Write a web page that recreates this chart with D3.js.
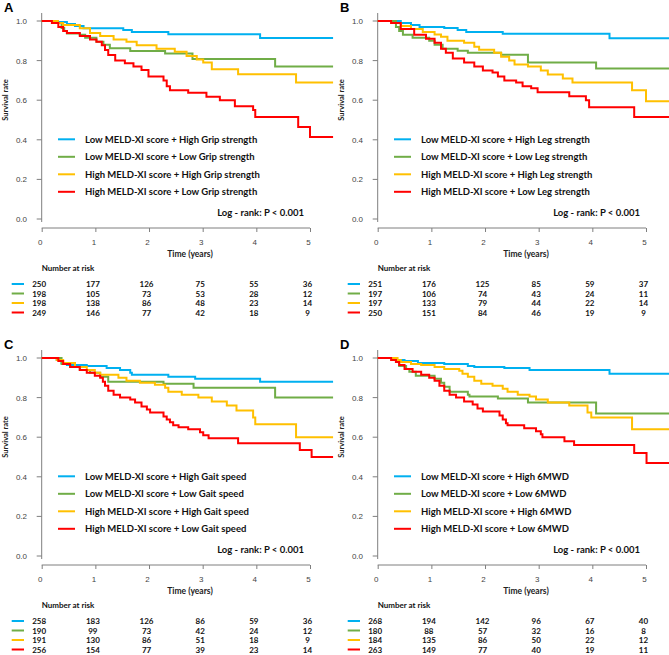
<!DOCTYPE html>
<html><head><meta charset="utf-8">
<script src="https://cdn.jsdelivr.net/npm/d3@7"></script>
<style>body{margin:0;background:#fff}svg{display:block}</style>
</head><body>
<script>
// ---------- DATA ----------
const panelLetters = ["A", "B", "C", "D"];
const panelMeasures = ["Grip strength", "Leg strength", "Gait speed", "6MWD"];
const groupPrefixes = ["Low MELD-XI score + High ", "Low MELD-XI score + Low ", "High MELD-XI score + High ", "High MELD-XI score + Low "];
const seriesColors = ["#00B0F0", "#70AD47", "#FFC000", "#FF0000"];
const xTicks = [0, 1, 2, 3, 4, 5];
const yTicks = [0.0, 0.2, 0.4, 0.6, 0.8, 1.0];
const tEnd = 5.43;
const logRankText = "Log - rank: P < 0.001";

// Panel A: Grip strength
const gripLowHigh = [[0,1],[0.25,0.995],[0.47,0.985],[0.62,0.975],[0.78,0.963],[1.52,0.955],[1.68,0.944],[2.36,0.933],[4.07,0.914]];
const gripLowLow = [[0,1],[0.3,0.99],[0.37,0.965],[0.42,0.95],[0.47,0.937],[0.71,0.93],[0.81,0.915],[1.02,0.895],[1.15,0.88],[1.27,0.862],[1.65,0.848],[2.30,0.836],[2.81,0.808],[4.35,0.77]];
const gripHighHigh = [[0,1],[0.3,0.99],[0.40,0.98],[0.71,0.963],[0.90,0.94],[1.09,0.924],[1.34,0.907],[1.58,0.895],[1.77,0.878],[2.14,0.86],[2.48,0.845],[2.70,0.823],[2.89,0.806],[3.01,0.79],[3.17,0.756],[3.66,0.731],[4.74,0.69]];
const gripHighLow = [[0,1],[0.19,0.99],[0.31,0.97],[0.40,0.95],[0.47,0.94],[0.71,0.924],[0.90,0.907],[1.02,0.895],[1.12,0.878],[1.18,0.853],[1.24,0.828],[1.37,0.80],[1.55,0.786],[1.71,0.77],[1.86,0.752],[1.99,0.72],[2.27,0.70],[2.33,0.67],[2.39,0.65],[2.73,0.637],[3.07,0.617],[3.32,0.60],[3.60,0.57],[3.94,0.55],[3.98,0.515],[4.78,0.465],[5.0,0.414]];

// Panel B: Leg strength
const legLowHigh = [[0,1],[0.43,0.99],[0.62,0.98],[0.78,0.97],[1.24,0.965],[1.49,0.955],[1.65,0.945],[2.33,0.935],[4.32,0.913]];
const legLowLow = [[0,1],[0.34,0.97],[0.40,0.95],[0.47,0.93],[0.65,0.915],[0.96,0.90],[1.06,0.88],[1.21,0.86],[1.49,0.85],[1.68,0.84],[2.30,0.83],[2.80,0.79],[4.07,0.76]];
const legHighHigh = [[0,1],[0.25,0.99],[0.43,0.975],[0.62,0.96],[0.84,0.945],[1.06,0.932],[1.18,0.92],[1.30,0.90],[1.61,0.89],[1.80,0.87],[1.89,0.855],[2.17,0.84],[2.30,0.82],[2.45,0.80],[2.55,0.78],[2.80,0.77],[3.04,0.75],[3.17,0.73],[3.45,0.71],[3.63,0.69],[4.74,0.65],[5.0,0.595]];
const legHighLow = [[0,1],[0.25,0.99],[0.43,0.96],[0.68,0.93],[0.90,0.91],[1.06,0.89],[1.18,0.86],[1.27,0.84],[1.40,0.81],[1.61,0.79],[1.80,0.77],[1.96,0.75],[2.14,0.74],[2.24,0.72],[2.36,0.70],[2.58,0.69],[2.70,0.67],[2.86,0.66],[2.98,0.64],[3.57,0.62],[3.88,0.60],[3.94,0.565],[4.78,0.515]];

// Panel C: Gait speed
const gaitLowHigh = [[0,1],[0.28,0.99],[0.37,0.975],[0.47,0.965],[0.84,0.96],[1.21,0.95],[1.46,0.94],[1.65,0.925],[1.68,0.915],[2.36,0.905],[2.86,0.895],[4.07,0.88]];
const gaitLowLow = [[0,1],[0.37,0.97],[0.53,0.955],[0.71,0.94],[0.90,0.925],[1.09,0.905],[1.24,0.88],[2.27,0.87],[2.83,0.85],[4.35,0.80]];
const gaitHighHigh = [[0,1],[0.28,0.99],[0.40,0.975],[0.62,0.955],[0.84,0.94],[0.99,0.925],[1.09,0.915],[1.43,0.90],[1.58,0.885],[1.83,0.875],[2.11,0.865],[2.30,0.85],[2.36,0.83],[2.61,0.815],[2.92,0.80],[3.17,0.78],[3.45,0.76],[3.63,0.735],[3.94,0.70],[3.98,0.665],[4.74,0.60]];
const gaitHighLow = [[0,1],[0.31,0.985],[0.40,0.97],[0.53,0.955],[0.71,0.94],[0.84,0.925],[0.99,0.91],[1.09,0.90],[1.14,0.88],[1.18,0.86],[1.24,0.835],[1.34,0.815],[1.46,0.80],[1.65,0.79],[1.74,0.775],[1.86,0.755],[1.96,0.74],[2.02,0.725],[2.27,0.705],[2.33,0.69],[2.39,0.675],[2.45,0.66],[2.55,0.65],[2.73,0.64],[2.95,0.625],[3.01,0.61],[3.11,0.595],[3.66,0.57],[4.81,0.535],[5.03,0.50]];

// Panel D: 6MWD
const walkLowHigh = [[0,1],[0.31,0.99],[0.50,0.985],[0.75,0.975],[1.24,0.97],[1.68,0.96],[1.80,0.955],[2.36,0.95],[2.83,0.94],[4.32,0.92]];
const walkLowLow = [[0,1],[0.34,0.98],[0.40,0.96],[0.53,0.945],[0.59,0.93],[0.71,0.91],[1.06,0.895],[1.18,0.875],[1.24,0.855],[1.34,0.83],[1.68,0.815],[1.71,0.805],[2.24,0.795],[2.80,0.775],[4.07,0.72]];
const walkHighHigh = [[0,1],[0.37,0.99],[0.43,0.98],[0.62,0.97],[0.81,0.965],[1.06,0.955],[1.24,0.945],[1.52,0.935],[1.58,0.92],[1.68,0.905],[1.80,0.885],[1.93,0.87],[2.14,0.86],[2.33,0.845],[2.42,0.83],[2.61,0.815],[2.83,0.805],[2.95,0.79],[3.17,0.775],[3.57,0.76],[3.91,0.725],[3.98,0.70],[4.74,0.64]];
const walkHighLow = [[0,1],[0.25,0.99],[0.34,0.98],[0.40,0.965],[0.50,0.945],[0.65,0.93],[0.81,0.915],[0.96,0.90],[1.06,0.885],[1.15,0.86],[1.24,0.835],[1.34,0.815],[1.46,0.80],[1.61,0.78],[1.77,0.765],[1.86,0.745],[1.96,0.73],[2.27,0.71],[2.33,0.69],[2.39,0.67],[2.42,0.66],[2.73,0.645],[2.95,0.63],[3.04,0.615],[3.07,0.60],[3.48,0.58],[3.66,0.56],[4.78,0.52],[5.01,0.47]];

// Number at risk
const riskGrip = [[250,177,126,75,55,36],[198,105,73,53,28,12],[198,138,86,48,23,14],[249,146,77,42,18,9]];
const riskLeg = [[251,176,125,85,59,37],[197,106,74,43,24,11],[197,133,79,44,22,14],[250,151,84,46,19,9]];
const riskGait = [[258,183,126,86,59,36],[190,99,73,42,24,12],[191,130,86,51,18,9],[256,154,77,39,23,14]];
const riskWalk = [[268,194,142,96,67,40],[180,88,57,32,16,8],[184,135,86,50,22,12],[263,149,77,40,19,11]];

const panelSeries = [
  [gripLowHigh, gripLowLow, gripHighHigh, gripHighLow],
  [legLowHigh, legLowLow, legHighHigh, legHighLow],
  [gaitLowHigh, gaitLowLow, gaitHighHigh, gaitHighLow],
  [walkLowHigh, walkLowLow, walkHighHigh, walkHighLow]
];
const panelRisk = [riskGrip, riskLeg, riskGait, riskWalk];

// ---------- DRAW ----------
const W = 669, H = 655;
const svg = d3.select("body").append("svg").attr("width", W).attr("height", H);
const boldFont = "Lato, 'Open Sans', sans-serif";
const tickFont = "'Liberation Sans', Arial, sans-serif";
const offsets = [[0,0],[336,0],[0,337],[336,337]];

const x = d3.scaleLinear().domain([0, 5]).range([41.7, 310]);
const y = d3.scaleLinear().domain([0, 1]).range([219, 21]);
const line = d3.line().x(d => x(d[0])).y(d => y(d[1])).curve(d3.curveStepAfter);

panelLetters.forEach((letter, p) => {
  const g = svg.append("g").attr("transform", `translate(${offsets[p][0]},${offsets[p][1]})`);

  g.append("text").attr("x", 4).attr("y", 12).text(letter)
    .attr("font-family", tickFont).attr("font-weight", "bold").attr("font-size", 13).attr("fill", "#000");

  // y axis
  g.append("line").attr("x1", x(0)).attr("x2", x(0)).attr("y1", 13).attr("y2", 222)
    .attr("stroke", "#7f7f7f").attr("stroke-width", 1);
  yTicks.forEach(v => {
    g.append("line").attr("x1", x(0) - 5).attr("x2", x(0)).attr("y1", y(v)).attr("y2", y(v))
      .attr("stroke", "#7f7f7f");
    g.append("text").attr("x", 27).attr("y", y(v) + 3).attr("text-anchor", "end")
      .attr("font-family", tickFont).attr("font-size", 8).attr("fill", "#444").text(v.toFixed(1));
  });
  g.append("text").attr("transform", `translate(8,100) rotate(-90)`).attr("text-anchor", "middle")
    .attr("font-family", boldFont).attr("font-weight", "bold").attr("font-size", 7.5).attr("fill", "#222")
    .text("Survival rate");

  // x axis
  const xa = g.append("g").attr("transform", "translate(0,228)")
    .call(d3.axisBottom(x).tickValues(xTicks).tickSize(4).tickFormat(d3.format("d")));
  xa.select(".domain").attr("stroke", "#7f7f7f").attr("d", `M${x(0)},0H${x(5)}`);
  xa.selectAll(".tick line").attr("stroke", "#7f7f7f");
  xa.selectAll(".tick text").attr("font-family", tickFont).attr("font-size", 8).attr("fill", "#444")
    .attr("dx", -2).attr("y", 11);
  g.append("text").attr("x", 190).attr("y", 257).attr("text-anchor", "middle")
    .attr("font-family", boldFont).attr("font-weight", "bold").attr("font-size", 8.5).attr("fill", "#222")
    .text("Time (years)");

  // curves
  panelSeries[p].forEach((s, i) => {
    const pts = s.concat([[tEnd, s[s.length - 1][1]]]);
    g.append("path").attr("d", line(pts)).attr("fill", "none")
      .attr("stroke", seriesColors[i]).attr("stroke-width", 2);
  });

  // legend
  groupPrefixes.forEach((pre, i) => {
    const ly = 139.3 + 17.5 * i;
    g.append("line").attr("x1", 58).attr("x2", 75).attr("y1", ly).attr("y2", ly)
      .attr("stroke", seriesColors[i]).attr("stroke-width", 2);
    g.append("text").attr("x", 85).attr("y", ly + 3.5)
      .attr("font-family", boldFont).attr("font-weight", "bold").attr("font-size", 9.5).attr("fill", "#111")
      .text(pre + panelMeasures[p]);
  });
  g.append("text").attr("x", 304).attr("y", 216).attr("text-anchor", "end")
    .attr("font-family", boldFont).attr("font-weight", "bold").attr("font-size", 9.5).attr("fill", "#111")
    .text(logRankText);

  // number at risk
  g.append("text").attr("x", 41.7).attr("y", 270.5)
    .attr("font-family", boldFont).attr("font-weight", "bold").attr("font-size", 8).attr("fill", "#111")
    .text("Number at risk");
  panelRisk[p].forEach((row, i) => {
    const ry = 284 + 9.5 * i;
    g.append("line").attr("x1", 11.7).attr("x2", 24).attr("y1", ry).attr("y2", ry)
      .attr("stroke", seriesColors[i]).attr("stroke-width", 2);
    row.forEach((n, k) => {
      g.append("text").attr("x", x(xTicks[k]) - 2.5).attr("y", ry + 3).attr("text-anchor", "middle")
        .attr("font-family", boldFont).attr("font-weight", "bold").attr("font-size", 8).attr("fill", "#111")
        .text(n);
    });
  });
});
</script>
</body></html>
